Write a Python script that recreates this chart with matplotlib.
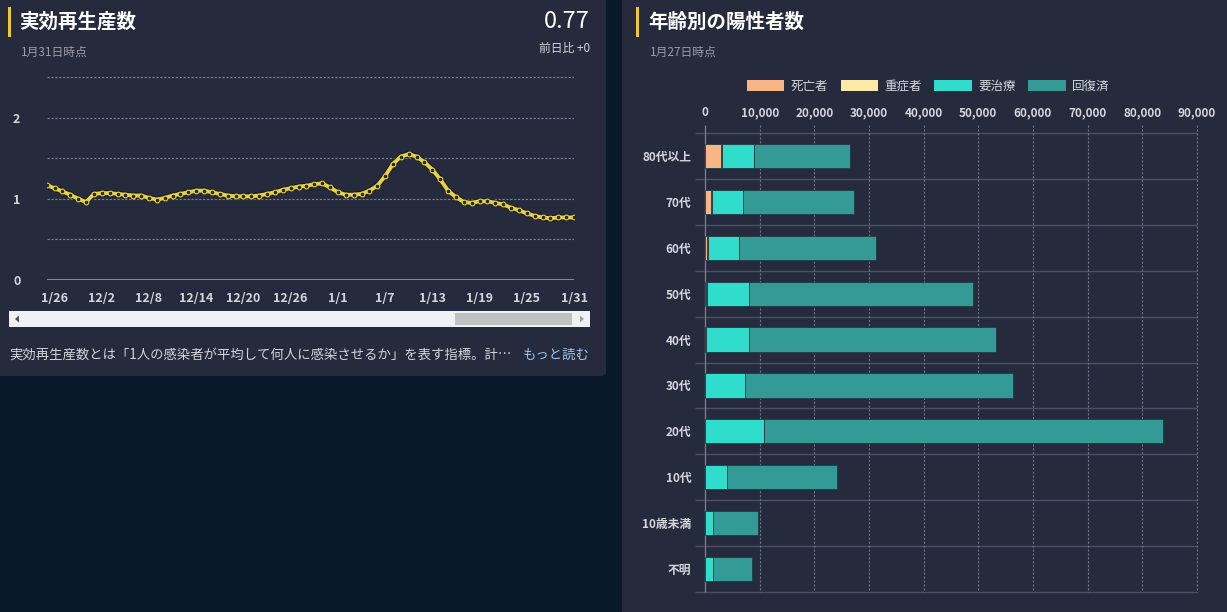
import numpy as np
import matplotlib
matplotlib.use("Agg")
import matplotlib.pyplot as plt
from matplotlib.patches import Rectangle, FancyBboxPatch, Polygon, Patch

plt.rcParams['font.family'] = ['Noto Sans CJK JP', 'DejaVu Sans']

# --- data: effective reproduction number (daily, 11/25 .. 1/31)
rt_values = [1.17, 1.13, 1.09, 1.05, 1.00, 0.96, 1.06, 1.07, 1.07, 1.06,
             1.05, 1.04, 1.04, 1.01, 0.99, 1.01, 1.04, 1.06, 1.08, 1.10,
             1.10, 1.08, 1.06, 1.04, 1.03, 1.03, 1.03, 1.04, 1.06, 1.08,
             1.11, 1.13, 1.15, 1.16, 1.18, 1.19, 1.14, 1.08, 1.05, 1.05,
             1.06, 1.10, 1.16, 1.28, 1.43, 1.52, 1.55, 1.52, 1.45, 1.36,
             1.24, 1.10, 1.02, 0.96, 0.95, 0.97, 0.97, 0.95, 0.93, 0.89,
             0.86, 0.82, 0.79, 0.77, 0.76, 0.77, 0.77, 0.77]
rt_tick_pos = [1, 7, 13, 19, 25, 31, 37, 43, 49, 55, 61, 67]
rt_tick_labels = ["1/26", "12/2", "12/8", "12/14", "12/20", "12/26",
                  "1/1", "1/7", "1/13", "1/19", "1/25", "1/31"]

# --- data: positives by age group
age_groups = ["80代以上", "70代", "60代", "50代", "40代", "30代",
              "20代", "10代", "10歳未満", "不明"]
deaths = [2900, 1100, 250, 100, 30, 10, 5, 0, 0, 0]
severe = [150, 200, 350, 250, 80, 40, 20, 5, 5, 0]
treating = [5950, 5650, 5500, 7590, 7830, 7250, 10675, 3900, 1490, 1450]
recovered = [17500, 20250, 25150, 41030, 45280, 49110, 73140, 20200, 8220, 7200]
series_names = ["死亡者", "重症者", "要治療", "回復済"]
series_colors = ["#f8b585", "#fde9a6", "#30dccb", "#339a96"]

W, H = 1227, 612
BG = "#0a1929"
PANEL = "#252a3c"
TXT = "#d4d6dc"
SUB = "#9a9ca6"


def fx(x):
    return x / W


def fy(y):
    return 1 - y / H


fig = plt.figure(figsize=(W / 100, H / 100), dpi=100)
fig.patch.set_facecolor(BG)

# panels (behind the axes)
fig.patches.append(FancyBboxPatch((fx(-10), fy(376)), fx(616), (376 + 10) / H,
                                  boxstyle="round,pad=0,rounding_size=0.006",
                                  transform=fig.transFigure, fc=PANEL, ec="none", zorder=-5))
fig.patches.append(Rectangle((fx(622), 0), fx(W - 622), 1,
                             transform=fig.transFigure, fc=PANEL, ec="none", zorder=-5))
# accent bars
for x0 in (8, 636):
    fig.patches.append(Rectangle((fx(x0), fy(37)), fx(3), 30 / H,
                                 transform=fig.transFigure, fc="#f0c930", ec="none", zorder=-4))

# ---------------- left: line chart ----------------
fig.text(fx(19), fy(22), "実効再生産数", color="white", fontsize=14,
         fontweight="bold", va="center")
fig.text(fx(21), fy(52), "1月31日時点", color=SUB, fontsize=8.5, va="center")
fig.text(fx(590), fy(22), "0.77", color="white", fontsize=17, va="center", ha="right")
fig.text(fx(590), fy(48), "前日比 +0", color=TXT, fontsize=8.5, va="center", ha="right")

ax1 = fig.add_axes([fx(46.7), fy(280), fx(574 - 46.7), (280 - 77) / H])
ax1.set_facecolor("none")
x = np.arange(len(rt_values))
ax1.plot(x, rt_values, color="#1e1d12", lw=4.4, zorder=3)
ax1.plot(x, rt_values, color="#e3d24a", lw=2.8, zorder=4)
ax1.plot(x, rt_values, ls="none", marker="o", ms=3.4, mfc="#2a2814",
         mec="#e3d24a", mew=0.8, zorder=5)
ax1.set_xlim(0, len(rt_values) - 1)
ax1.set_ylim(0, 2.5)
for yv in np.arange(0.5, 2.51, 0.5):
    ax1.axhline(yv, color="#7d8299", lw=0.8, ls=(0, (2, 1.5)), zorder=1)
ax1.axhline(0, color="#9a9ca6", lw=1.2, zorder=1)
for s in ax1.spines.values():
    s.set_visible(False)
ax1.set_yticks([0, 1, 2])
ax1.set_yticklabels(["0", "1", "2"])
ax1.tick_params(axis="y", length=0, pad=19, colors=TXT, labelsize=9)
ax1.set_xticks(rt_tick_pos)
ax1.set_xticklabels(rt_tick_labels)
ax1.tick_params(axis="x", length=0, pad=9, colors=TXT, labelsize=9)
for lbl in ax1.get_xticklabels() + ax1.get_yticklabels():
    lbl.set_fontweight("bold")

# scrollbar
fig.patches.append(Rectangle((fx(9), fy(327)), fx(581), 16 / H,
                             transform=fig.transFigure, fc="#f1f1f5", ec="none"))
fig.patches.append(Rectangle((fx(455), fy(325)), fx(117), 12 / H,
                             transform=fig.transFigure, fc="#c1c1c1", ec="none"))
fig.patches.append(Polygon([(fx(15), fy(319)), (fx(19), fy(315.5)), (fx(19), fy(322.5))],
                           closed=True, transform=fig.transFigure, fc="#505050", ec="none"))
fig.patches.append(Polygon([(fx(584), fy(319)), (fx(580), fy(315.5)), (fx(580), fy(322.5))],
                           closed=True, transform=fig.transFigure, fc="#a0a0a0", ec="none"))

fig.text(fx(9), fy(355), "実効再生産数とは「1人の感染者が平均して何人に感染させるか」を表す指標。計…",
         color=TXT, fontsize=9.6, va="center")
fig.text(fx(590), fy(355), "もっと読む", color="#9cc9f0", fontsize=9.6, va="center", ha="right")

# ---------------- right: stacked bars ----------------
fig.text(fx(648), fy(22), "年齢別の陽性者数", color="white", fontsize=14,
         fontweight="bold", va="center")
fig.text(fx(650), fy(52), "1月27日時点", color=SUB, fontsize=8.5, va="center")

ax2 = fig.add_axes([fx(705.2), fy(591.7), fx(1196.8 - 705.2), (591.7 - 133.3) / H])
ax2.set_facecolor("none")
ypos = np.arange(len(age_groups))
left = np.zeros(len(age_groups))
for vals, name, col in zip([deaths, severe, treating, recovered], series_names, series_colors):
    ax2.barh(ypos, vals, left=left, height=0.53, color=col, edgecolor="#1f3a44",
             linewidth=0.6, label=name, zorder=3)
    left += np.array(vals)
ax2.set_xlim(0, 90000)
ax2.set_ylim(len(age_groups) - 0.5, -0.5)
for s in ax2.spines.values():
    s.set_visible(False)

# category separators
ax2.hlines(np.arange(len(age_groups) + 1) - 0.5, -1800, 90000, color="#4b5064",
           lw=1, clip_on=False, zorder=1)
# vertical grid
ax2.vlines(np.arange(10000, 90001, 10000), -0.68, len(age_groups) - 0.5,
           color="#6e7388", lw=0.8, ls=(0, (2, 1.5)), clip_on=False, zorder=1)
ax2.vlines(0, -0.68, len(age_groups) - 0.5, color="#7d8299", lw=0.9,
           clip_on=False, zorder=2)

ax2.xaxis.tick_top()
ax2.set_xticks(np.arange(0, 90001, 10000))
ax2.set_xticklabels([f"{v:,}" for v in range(0, 90001, 10000)])
ax2.tick_params(axis="x", length=0, pad=10, colors=TXT, labelsize=8.5)
ax2.set_yticks(ypos)
ax2.set_yticklabels(age_groups)
ax2.tick_params(axis="y", length=0, pad=10, colors=TXT, labelsize=8.5)
for lbl in ax2.get_xticklabels() + ax2.get_yticklabels():
    lbl.set_fontweight("bold")

handles = [Patch(fc=c, ec="none") for c in series_colors]
fig.legend(handles, series_names, loc="center", bbox_to_anchor=(fx(928), fy(86)),
           ncol=4, frameon=False, labelcolor=TXT, fontsize=9,
           handlelength=3.0, handleheight=1.0, handletextpad=0.5, columnspacing=1.0)

fig.savefig("out.png", dpi=100, facecolor=BG)
